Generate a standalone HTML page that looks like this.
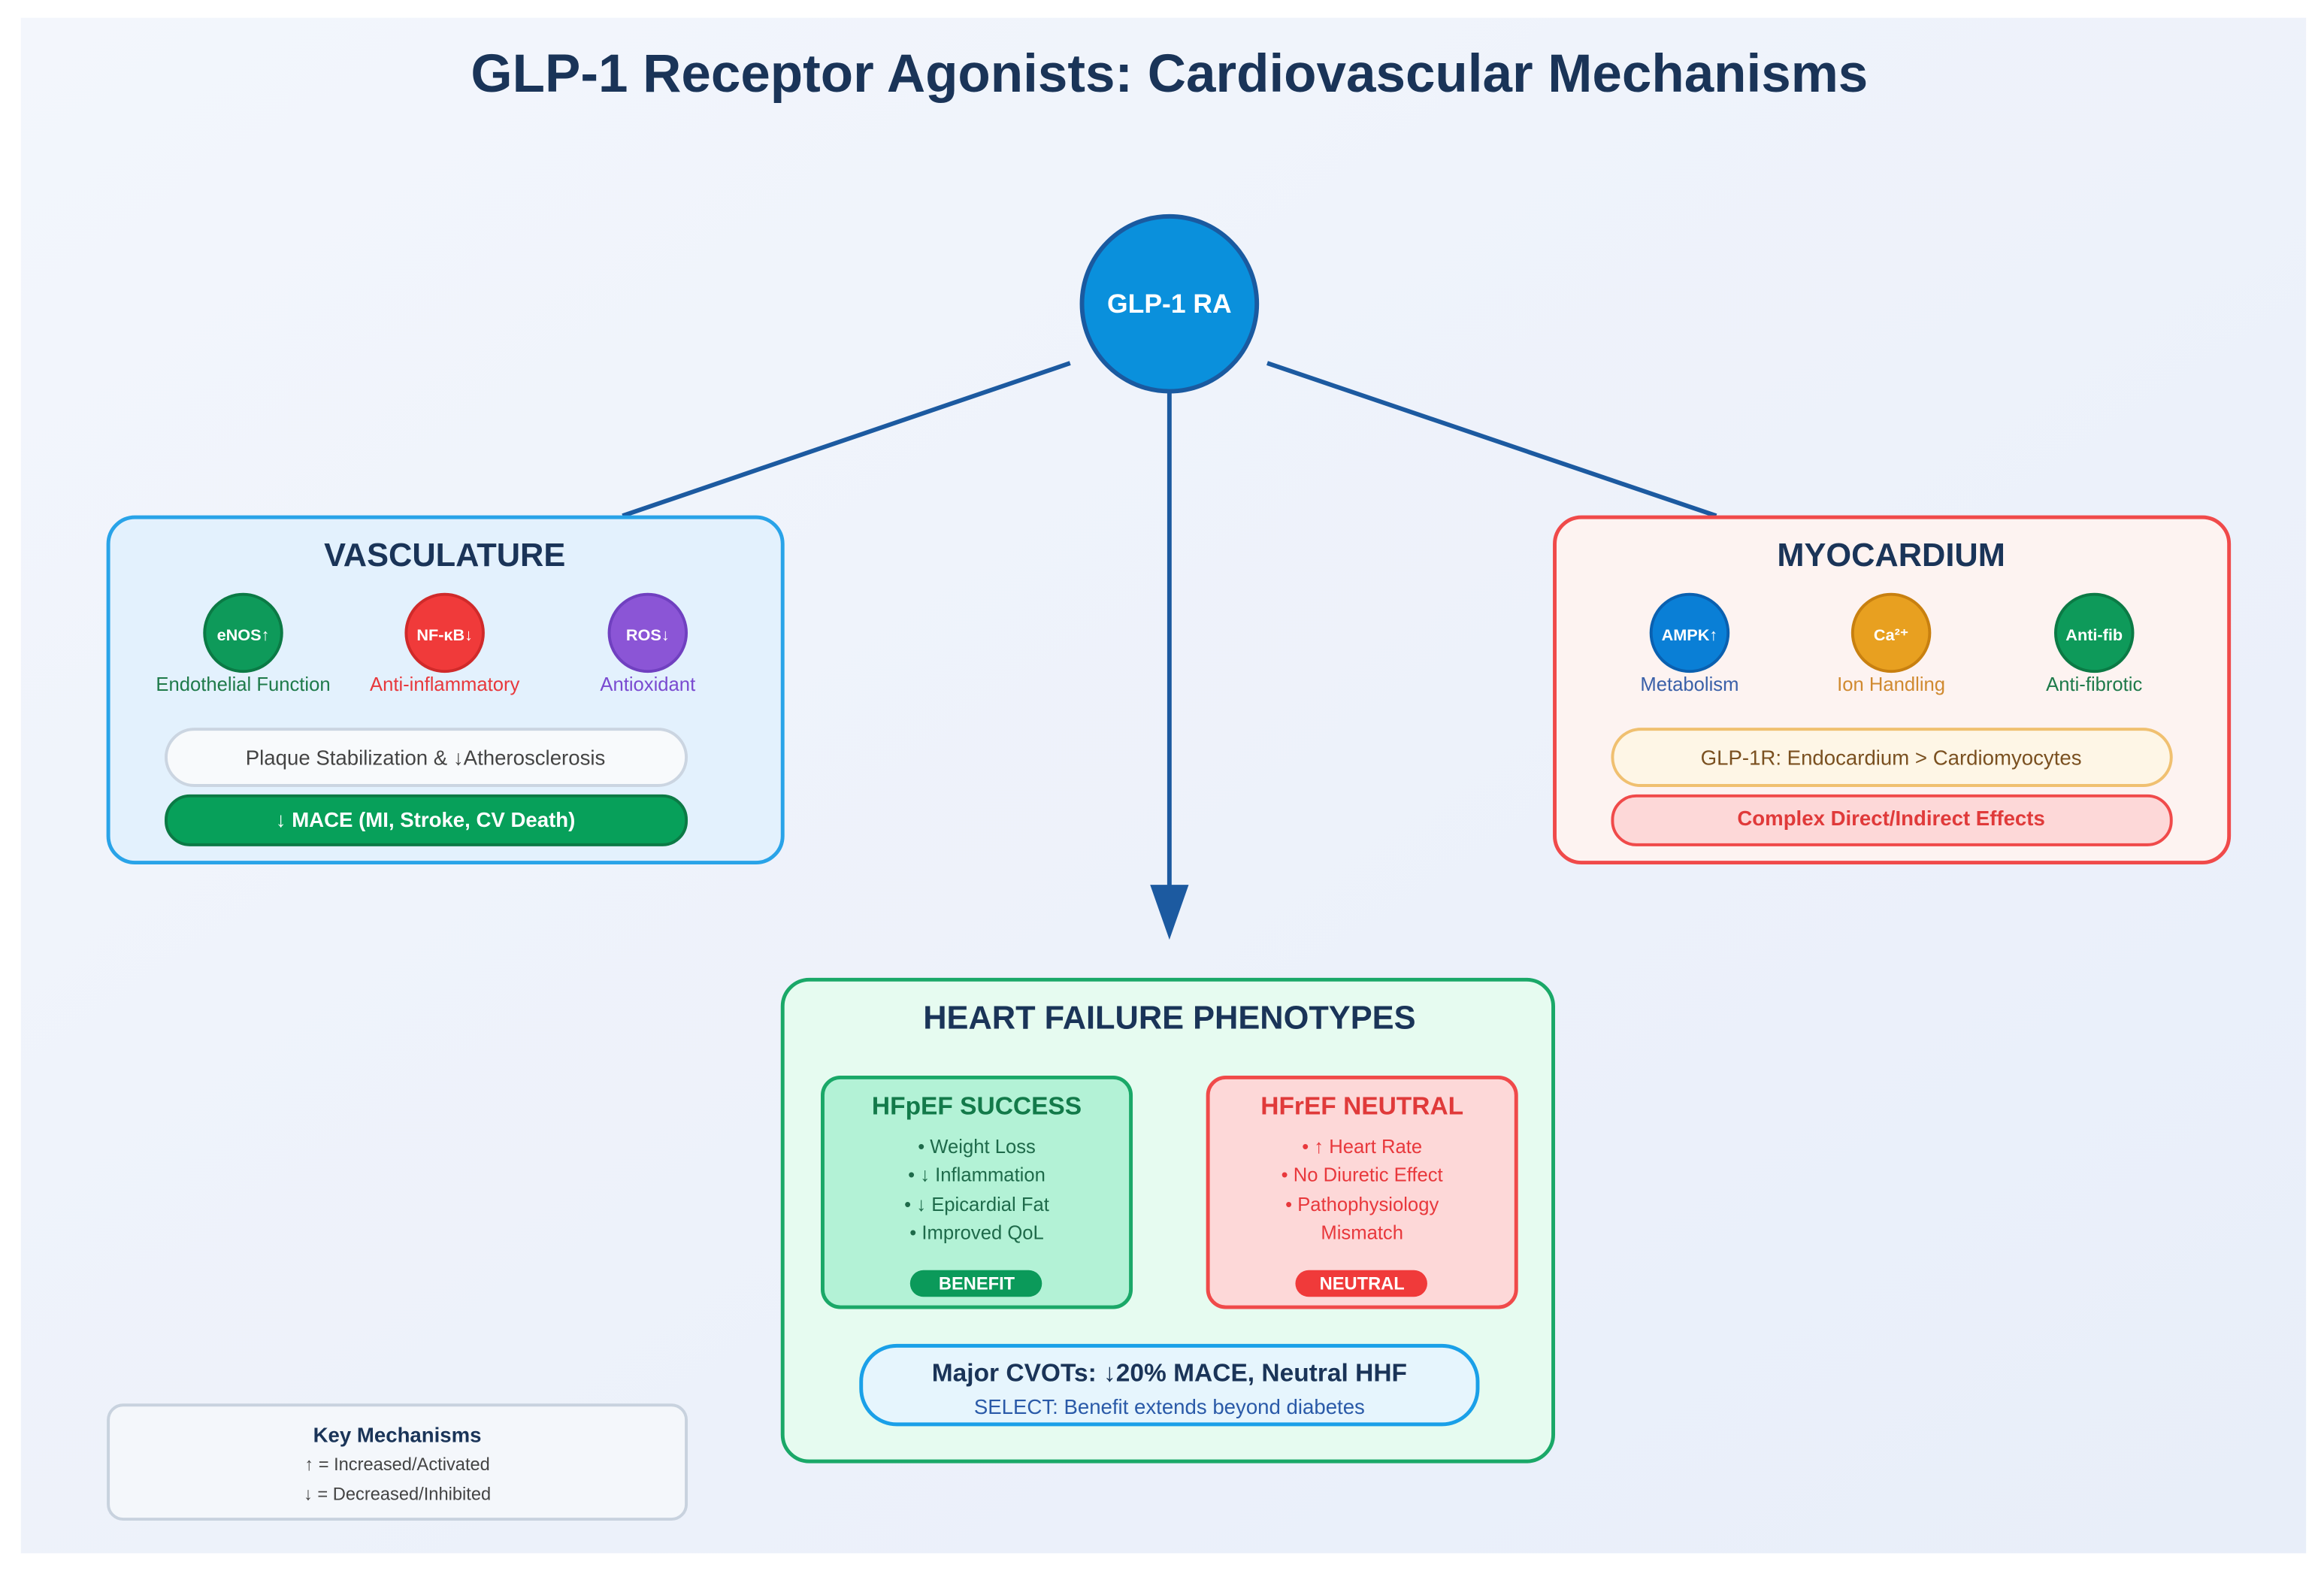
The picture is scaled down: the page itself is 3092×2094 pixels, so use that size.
<!DOCTYPE html>
<html><head><meta charset="utf-8"><style>
html,body{margin:0;padding:0;background:#fff;}
svg{display:block;}
text{font-family:"Liberation Sans",Arial,sans-serif;}
</style></head><body>
<svg width="3092" height="2094" viewBox="0 0 1568 1062" xmlns="http://www.w3.org/2000/svg">
<defs>
<linearGradient id="bg" x1="0" y1="0" x2="1" y2="1">
<stop offset="0" stop-color="#f3f6fc"/><stop offset="1" stop-color="#e8eef9"/>
</linearGradient>
</defs>
<rect x="0" y="0" width="1568" height="1062" fill="#fff"/>
<rect x="14" y="12" width="1542" height="1036" fill="url(#bg)"/>
<text x="789" y="62" text-anchor="middle" font-size="36" font-weight="bold" fill="#1a3458">GLP-1 Receptor Agonists: Cardiovascular Mechanisms</text>

<g stroke="#1c5aa0" stroke-width="3" fill="none">
<line x1="722" y1="245" x2="420" y2="348"/>
<line x1="855" y1="245" x2="1158" y2="348"/>
<line x1="789" y1="265" x2="789" y2="600"/>
</g>
<polygon points="776,597 802,597 789,634" fill="#1c5aa0"/>
<circle cx="789" cy="205" r="59" fill="#0a90dc" stroke="#1a5aa0" stroke-width="3"/>
<text x="789" y="211" text-anchor="middle" font-size="18" font-weight="bold" fill="#fff">GLP-1 RA</text>

<!-- Vasculature -->
<rect x="73" y="349" width="455" height="233" rx="18" fill="#e3f1fd" stroke="#29a3e8" stroke-width="2.5"/>
<text x="300" y="382" text-anchor="middle" font-size="22" font-weight="bold" fill="#1a3458">VASCULATURE</text>
<circle cx="164" cy="427" r="26" fill="#0e9a5a" stroke="#0b7a45" stroke-width="2"/>
<text x="164" y="432" text-anchor="middle" font-size="11" font-weight="bold" fill="#fff">eNOS↑</text>
<circle cx="300" cy="427" r="26" fill="#f03a3a" stroke="#d02a2a" stroke-width="2"/>
<text x="300" y="432" text-anchor="middle" font-size="11" font-weight="bold" fill="#fff">NF-κB↓</text>
<circle cx="437" cy="427" r="26" fill="#8b55d6" stroke="#7040c0" stroke-width="2"/>
<text x="437" y="432" text-anchor="middle" font-size="11" font-weight="bold" fill="#fff">ROS↓</text>
<text x="164" y="466" text-anchor="middle" font-size="13" fill="#1e7a4a">Endothelial Function</text>
<text x="300" y="466" text-anchor="middle" font-size="13" fill="#e8383c">Anti-inflammatory</text>
<text x="437" y="466" text-anchor="middle" font-size="13" fill="#7a4ad0">Antioxidant</text>
<rect x="112" y="492" width="351" height="38" rx="19" fill="#f8fafc" stroke="#cbd5e1" stroke-width="2"/>
<text x="287" y="516" text-anchor="middle" font-size="14" fill="#444">Plaque Stabilization &amp; ↓Atherosclerosis</text>
<rect x="112" y="537" width="351" height="33" rx="16" fill="#07a05a" stroke="#0b7a45" stroke-width="2"/>
<text x="287" y="558" text-anchor="middle" font-size="14" font-weight="bold" fill="#fff">↓ MACE (MI, Stroke, CV Death)</text>

<!-- Myocardium -->
<rect x="1049" y="349" width="455" height="233" rx="18" fill="#fdf3f1" stroke="#f04a4a" stroke-width="2.5"/>
<text x="1276" y="382" text-anchor="middle" font-size="22" font-weight="bold" fill="#1a3458">MYOCARDIUM</text>
<circle cx="1140" cy="427" r="26" fill="#0a7fd6" stroke="#0a60b0" stroke-width="2"/>
<text x="1140" y="432" text-anchor="middle" font-size="11" font-weight="bold" fill="#fff">AMPK↑</text>
<circle cx="1276" cy="427" r="26" fill="#e8a020" stroke="#c88010" stroke-width="2"/>
<text x="1276" y="432" text-anchor="middle" font-size="11" font-weight="bold" fill="#fff">Ca²⁺</text>
<circle cx="1413" cy="427" r="26" fill="#0e9a5a" stroke="#0b7a45" stroke-width="2"/>
<text x="1413" y="432" text-anchor="middle" font-size="11" font-weight="bold" fill="#fff">Anti-fib</text>
<text x="1140" y="466" text-anchor="middle" font-size="13" fill="#3a60a8">Metabolism</text>
<text x="1276" y="466" text-anchor="middle" font-size="13" fill="#d08a30">Ion Handling</text>
<text x="1413" y="466" text-anchor="middle" font-size="13" fill="#1e7a4a">Anti-fibrotic</text>
<rect x="1088" y="492" width="377" height="38" rx="19" fill="#fef6e6" stroke="#f0c070" stroke-width="2"/>
<text x="1276" y="516" text-anchor="middle" font-size="14" fill="#7a5020">GLP-1R: Endocardium &gt; Cardiomyocytes</text>
<rect x="1088" y="537" width="377" height="33" rx="16" fill="#fdd8d8" stroke="#f04a4a" stroke-width="2"/>
<text x="1276" y="557" text-anchor="middle" font-size="14" font-weight="bold" fill="#e03a3a">Complex Direct/Indirect Effects</text>

<!-- HF -->
<rect x="528" y="661" width="520" height="325" rx="18" fill="#e6fbf0" stroke="#1aa868" stroke-width="2.5"/>
<text x="789" y="694" text-anchor="middle" font-size="22" font-weight="bold" fill="#1a3458">HEART FAILURE PHENOTYPES</text>
<rect x="555" y="727" width="208" height="155" rx="12" fill="#b3f2d6" stroke="#1aa868" stroke-width="2.5"/>
<text x="659" y="752" text-anchor="middle" font-size="17" font-weight="bold" fill="#137a4a">HFpEF SUCCESS</text>
<g font-size="13" fill="#1e6a4a" text-anchor="middle">
<text x="659" y="778">• Weight Loss</text>
<text x="659" y="797">• ↓ Inflammation</text>
<text x="659" y="817">• ↓ Epicardial Fat</text>
<text x="659" y="836">• Improved QoL</text>
</g>
<rect x="614" y="857" width="89" height="18" rx="9" fill="#0b9a5a"/>
<text x="659" y="870" text-anchor="middle" font-size="12" font-weight="bold" fill="#fff">BENEFIT</text>
<rect x="815" y="727" width="208" height="155" rx="12" fill="#fdd8d8" stroke="#f04a4a" stroke-width="2.5"/>
<text x="919" y="752" text-anchor="middle" font-size="17" font-weight="bold" fill="#e03a3a">HFrEF NEUTRAL</text>
<g font-size="13" fill="#e8383c" text-anchor="middle">
<text x="919" y="778">• ↑ Heart Rate</text>
<text x="919" y="797">• No Diuretic Effect</text>
<text x="919" y="817">• Pathophysiology</text>
<text x="919" y="836">Mismatch</text>
</g>
<rect x="874" y="857" width="89" height="18" rx="9" fill="#f03a3a"/>
<text x="919" y="870" text-anchor="middle" font-size="12" font-weight="bold" fill="#fff">NEUTRAL</text>
<rect x="581" y="908" width="416" height="53" rx="24" fill="#e6f5fd" stroke="#1aa0e8" stroke-width="2.5"/>
<text x="789" y="932" text-anchor="middle" font-size="17" font-weight="bold" fill="#1a3458">Major CVOTs: ↓20% MACE, Neutral HHF</text>
<text x="789" y="954" text-anchor="middle" font-size="14" fill="#2a5aa8">SELECT: Benefit extends beyond diabetes</text>

<!-- Key -->
<rect x="73" y="948" width="390" height="77" rx="10" fill="#f4f7fb" stroke="#c8d2de" stroke-width="2"/>
<text x="268" y="973" text-anchor="middle" font-size="14" font-weight="bold" fill="#1a3458">Key Mechanisms</text>
<text x="268" y="992" text-anchor="middle" font-size="12" fill="#444">↑ = Increased/Activated</text>
<text x="268" y="1012" text-anchor="middle" font-size="12" fill="#444">↓ = Decreased/Inhibited</text>
</svg>
</body></html>
